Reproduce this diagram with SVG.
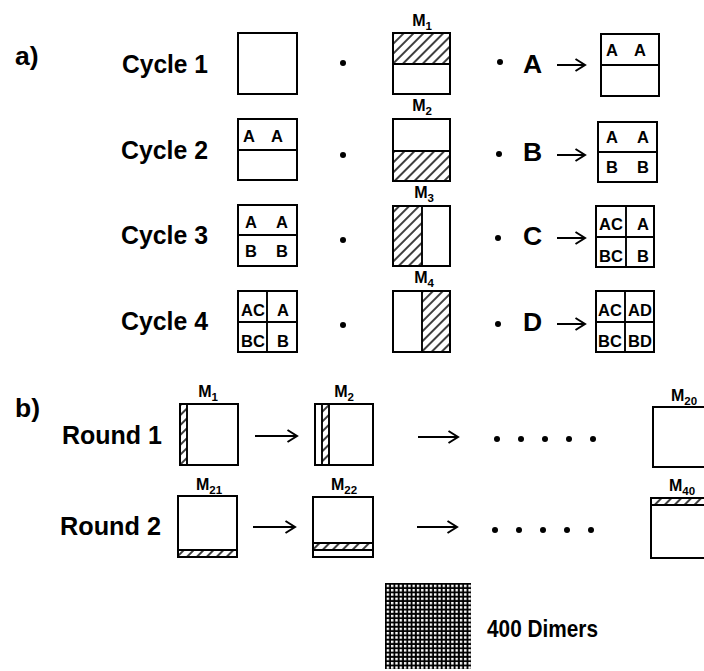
<svg xmlns="http://www.w3.org/2000/svg" width="704" height="671" viewBox="0 0 704 671">
<style>
text{font-family:"Liberation Sans",Arial,sans-serif;font-weight:bold;fill:#000}
.big{font-size:26.5px}
.sm{font-size:16.5px;text-anchor:middle}
.ml{font-size:16px;text-anchor:middle}
.sub{font-size:11.5px}
.box{fill:#fff;stroke:#000;stroke-width:2}
.ln{stroke:#000;stroke-width:1.9;fill:none}
.hat{fill:url(#hatch);stroke:none}
.arr{stroke:#000;stroke-width:2;fill:none;marker-end:url(#head)}
</style>
<defs>
<pattern id="hatch" patternUnits="userSpaceOnUse" width="7" height="7" patternTransform="rotate(45)">
<line x1="1" y1="-1" x2="1" y2="8" stroke="#000" stroke-width="1.5"/>
</pattern>
<pattern id="grid" patternUnits="userSpaceOnUse" x="385" y="583" width="4.3" height="4.3">
<rect x="1.7" y="1.7" width="2.4" height="2.4" fill="#fff"/>
</pattern>
<marker id="head" markerUnits="userSpaceOnUse" markerWidth="14" markerHeight="14" refX="10" refY="6" orient="auto" overflow="visible">
<path d="M0.5,0 L10,6 L0.5,12" fill="none" stroke="#000" stroke-width="2"/>
</marker>
</defs>

<text class="big" x="15" y="65">a)</text>
<text class="big" x="15" y="417">b)</text>

<!-- Row labels -->
<g id="cycle1"><text class="big" x="122" y="73" textLength="86" lengthAdjust="spacingAndGlyphs">Cycle 1</text></g>
<g id="cycle2"><text class="big" x="121" y="159" textLength="87" lengthAdjust="spacingAndGlyphs">Cycle 2</text></g>
<g id="cycle3"><text class="big" x="121" y="244" textLength="87" lengthAdjust="spacingAndGlyphs">Cycle 3</text></g>
<g id="cycle4"><text class="big" x="121" y="330" textLength="87" lengthAdjust="spacingAndGlyphs">Cycle 4</text></g>

<!-- Row 1 -->
<g id="r1-start"><rect class="box" x="238" y="33" width="59" height="61"/></g>
<g id="r1-mask">
<rect class="box" x="393" y="33" width="57" height="61"/>
<rect class="hat" x="393" y="33" width="57" height="31"/>
<rect x="393" y="33" width="57" height="61" class="ln"/>
<line class="ln" x1="393" y1="64" x2="450" y2="64"/>
<text class="ml" x="422" y="26">M<tspan class="sub" dy="4">1</tspan></text>
</g>
<g id="r1-reagent"><text class="big" x="523" y="73">A</text></g>
<g id="r1-result">
<rect class="box" x="601" y="34" width="58" height="62"/>
<line class="ln" x1="601" y1="65" x2="659" y2="65"/>
<text class="sm" x="612" y="56">A</text><text class="sm" x="640" y="56">A</text>
</g>

<!-- Row 2 -->
<g id="r2-start">
<rect class="box" x="238" y="119" width="59" height="61"/>
<line class="ln" x1="238" y1="150" x2="297" y2="150"/>
<text class="sm" x="249" y="142">A</text><text class="sm" x="277" y="142">A</text>
</g>
<g id="r2-mask">
<rect class="box" x="393" y="119" width="57" height="62"/>
<rect class="hat" x="393" y="151" width="57" height="30"/>
<rect x="393" y="119" width="57" height="62" class="ln"/>
<line class="ln" x1="393" y1="151" x2="450" y2="151"/>
<text class="ml" x="422" y="111">M<tspan class="sub" dy="4">2</tspan></text>
</g>
<g id="r2-reagent"><text class="big" x="523" y="161">B</text></g>
<g id="r2-result">
<rect class="box" x="598" y="122" width="59" height="60"/>
<line class="ln" x1="598" y1="152" x2="657" y2="152"/>
<text class="sm" x="612" y="143">A</text><text class="sm" x="643" y="143">A</text>
<text class="sm" x="612" y="173">B</text><text class="sm" x="643" y="173">B</text>
</g>

<!-- Row 3 -->
<g id="r3-start">
<rect class="box" x="238" y="205" width="59" height="61"/>
<line class="ln" x1="238" y1="235" x2="297" y2="235"/>
<text class="sm" x="251" y="228">A</text><text class="sm" x="282" y="228">A</text>
<text class="sm" x="251" y="257">B</text><text class="sm" x="282" y="257">B</text>
</g>
<g id="r3-mask">
<rect class="box" x="393" y="206" width="57" height="60"/>
<rect class="hat" x="393" y="206" width="29" height="60"/>
<rect x="393" y="206" width="57" height="60" class="ln"/>
<line class="ln" x1="422" y1="206" x2="422" y2="266"/>
<text class="ml" x="424" y="198">M<tspan class="sub" dy="4">3</tspan></text>
</g>
<g id="r3-reagent"><text class="big" x="523" y="245">C</text></g>
<g id="r3-result">
<rect class="box" x="596" y="206" width="58" height="61"/>
<line class="ln" x1="626" y1="206" x2="626" y2="267"/>
<line class="ln" x1="596" y1="237" x2="654" y2="237"/>
<text class="sm" x="611" y="230">AC</text><text class="sm" x="643" y="230">A</text>
<text class="sm" x="611" y="262">BC</text><text class="sm" x="643" y="262">B</text>
</g>

<!-- Row 4 -->
<g id="r4-start">
<rect class="box" x="238" y="291" width="59" height="61"/>
<line class="ln" x1="267" y1="291" x2="267" y2="352"/>
<line class="ln" x1="238" y1="322" x2="297" y2="322"/>
<text class="sm" x="253" y="316">AC</text><text class="sm" x="283" y="316">A</text>
<text class="sm" x="253" y="347">BC</text><text class="sm" x="283" y="347">B</text>
</g>
<g id="r4-mask">
<rect class="box" x="393" y="291" width="57" height="61"/>
<rect class="hat" x="422" y="291" width="28" height="61"/>
<rect x="393" y="291" width="57" height="61" class="ln"/>
<line class="ln" x1="422" y1="291" x2="422" y2="352"/>
<text class="ml" x="424" y="283">M<tspan class="sub" dy="4">4</tspan></text>
</g>
<g id="r4-reagent"><text class="big" x="523" y="331">D</text></g>
<g id="r4-result">
<rect class="box" x="596" y="291" width="58" height="61"/>
<line class="ln" x1="625" y1="291" x2="625" y2="352"/>
<line class="ln" x1="596" y1="322" x2="654" y2="322"/>
<text class="sm" x="610" y="316">AC</text><text class="sm" x="640" y="316">AD</text>
<text class="sm" x="610" y="347">BC</text><text class="sm" x="640" y="347">BD</text>
</g>

<!-- multiplication dots -->
<g id="dots">
<circle cx="343" cy="63" r="3"/><circle cx="500" cy="62" r="3"/>
<circle cx="343" cy="155" r="3"/><circle cx="499" cy="154" r="3"/>
<circle cx="343" cy="240" r="3"/><circle cx="498" cy="238" r="3"/>
<circle cx="343" cy="325" r="3"/><circle cx="498" cy="324" r="3"/>
<circle cx="497" cy="439" r="3"/><circle cx="521" cy="439" r="3"/><circle cx="545" cy="439" r="3"/><circle cx="569" cy="439" r="3"/><circle cx="593" cy="439" r="3"/>
<circle cx="495" cy="530" r="3"/><circle cx="519" cy="530" r="3"/><circle cx="543" cy="530" r="3"/><circle cx="567" cy="530" r="3"/><circle cx="591" cy="530" r="3"/>
</g>

<!-- Part b -->
<g id="round1"><text class="big" x="62" y="444" textLength="100" lengthAdjust="spacingAndGlyphs">Round 1</text></g>
<g id="round2"><text class="big" x="60" y="535" textLength="101" lengthAdjust="spacingAndGlyphs">Round 2</text></g>

<g id="b-m1">
<rect class="box" x="180" y="404" width="58" height="61"/>
<rect class="hat" x="180" y="404" width="7" height="61"/>
<rect x="180" y="404" width="58" height="61" class="ln"/>
<line class="ln" x1="187" y1="404" x2="187" y2="465"/>
<text class="ml" x="208" y="397">M<tspan class="sub" dy="4">1</tspan></text>
</g>
<g id="b-m2">
<rect class="box" x="315" y="404" width="58" height="61"/>
<rect class="hat" x="322" y="404" width="7" height="61"/>
<rect x="315" y="404" width="58" height="61" class="ln"/>
<line class="ln" x1="322" y1="404" x2="322" y2="465"/>
<line class="ln" x1="329" y1="404" x2="329" y2="465"/>
<text class="ml" x="344" y="397">M<tspan class="sub" dy="4">2</tspan></text>
</g>
<g id="b-m20">
<rect class="box" x="653" y="407" width="60" height="60"/>
<text class="ml" x="684" y="401">M<tspan class="sub" dy="4">20</tspan></text>
</g>
<g id="b-m21">
<rect class="box" x="178" y="496" width="59" height="61"/>
<rect class="hat" x="178" y="550" width="59" height="7"/>
<rect x="178" y="496" width="59" height="61" class="ln"/>
<line class="ln" x1="178" y1="550" x2="237" y2="550"/>
<text class="ml" x="209" y="490">M<tspan class="sub" dy="4">21</tspan></text>
</g>
<g id="b-m22">
<rect class="box" x="313" y="497" width="60" height="60"/>
<rect class="hat" x="313" y="543" width="60" height="7"/>
<rect x="313" y="497" width="60" height="60" class="ln"/>
<line class="ln" x1="313" y1="543" x2="373" y2="543"/>
<line class="ln" x1="313" y1="550" x2="373" y2="550"/>
<text class="ml" x="344" y="490">M<tspan class="sub" dy="4">22</tspan></text>
</g>
<g id="b-m40">
<rect class="box" x="651" y="498" width="62" height="60"/>
<rect class="hat" x="651" y="498" width="62" height="7"/>
<rect x="651" y="498" width="62" height="60" class="ln"/>
<line class="ln" x1="651" y1="505" x2="713" y2="505"/>
<text class="ml" x="682" y="491">M<tspan class="sub" dy="4">40</tspan></text>
</g>

<g id="dimers">
<rect x="385" y="583" width="86" height="86" fill="#000"/>
<rect x="385" y="583" width="86" height="86" fill="url(#grid)"/>
<text x="487" y="637" style="font-size:24px" textLength="111" lengthAdjust="spacingAndGlyphs">400 Dimers</text>
</g>

<!-- connectors -->
<g id="connectors">
<line class="arr" x1="557" y1="65" x2="585" y2="65"/>
<line class="arr" x1="557" y1="155" x2="585" y2="155"/>
<line class="arr" x1="557" y1="238" x2="585" y2="238"/>
<line class="arr" x1="557" y1="324" x2="585" y2="324"/>
<line class="arr" x1="255" y1="436" x2="297" y2="436"/>
<line class="arr" x1="418" y1="437" x2="458" y2="437"/>
<line class="arr" x1="253" y1="527" x2="295" y2="527"/>
<line class="arr" x1="417" y1="527" x2="457" y2="527"/>
</g>
</svg>
